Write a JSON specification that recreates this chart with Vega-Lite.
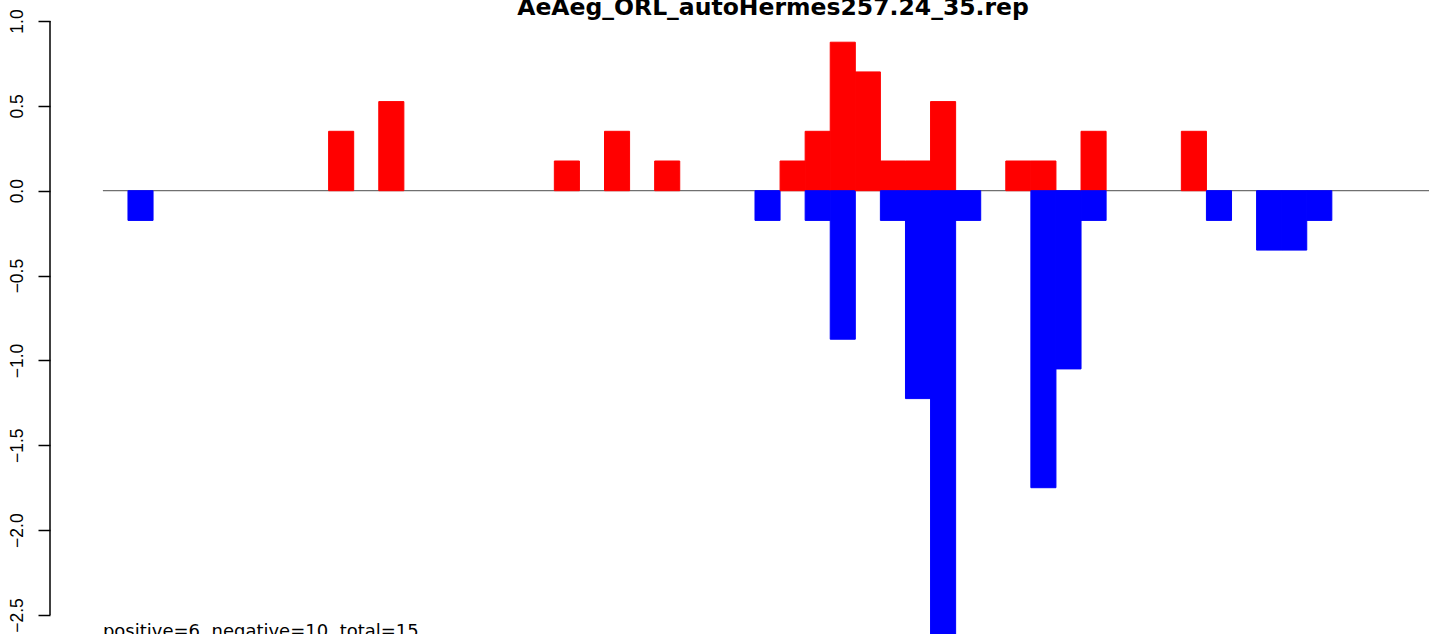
{
  "$schema": "https://vega.github.io/schema/vega-lite/v6.json",
  "width": 1379,
  "height": 634,
  "autosize": "none",
  "padding": {"left": 50, "top": 0, "right": 0, "bottom": 0},
  "background": "white",
  "config": {"view": {"stroke": null}},
  "datasets": {
    "bars": [
      {"from": 1, "to": 2, "value": -0.175, "sign": "negative"},
      {"from": 9, "to": 10, "value": 0.35, "sign": "positive"},
      {"from": 11, "to": 12, "value": 0.525, "sign": "positive"},
      {"from": 18, "to": 19, "value": 0.175, "sign": "positive"},
      {"from": 20, "to": 21, "value": 0.35, "sign": "positive"},
      {"from": 22, "to": 23, "value": 0.175, "sign": "positive"},
      {"from": 26, "to": 27, "value": -0.175, "sign": "negative"},
      {"from": 27, "to": 28, "value": 0.175, "sign": "positive"},
      {"from": 28, "to": 29, "value": 0.35, "sign": "positive"},
      {"from": 28, "to": 29, "value": -0.175, "sign": "negative"},
      {"from": 29, "to": 30, "value": 0.875, "sign": "positive"},
      {"from": 29, "to": 30, "value": -0.875, "sign": "negative"},
      {"from": 30, "to": 31, "value": 0.7, "sign": "positive"},
      {"from": 31, "to": 32, "value": 0.175, "sign": "positive"},
      {"from": 31, "to": 32, "value": -0.175, "sign": "negative"},
      {"from": 32, "to": 33, "value": 0.175, "sign": "positive"},
      {"from": 32, "to": 33, "value": -1.225, "sign": "negative"},
      {"from": 33, "to": 34, "value": 0.525, "sign": "positive"},
      {"from": 33, "to": 34, "value": -2.625, "sign": "negative"},
      {"from": 34, "to": 35, "value": -0.175, "sign": "negative"},
      {"from": 36, "to": 37, "value": 0.175, "sign": "positive"},
      {"from": 37, "to": 38, "value": 0.175, "sign": "positive"},
      {"from": 37, "to": 38, "value": -1.75, "sign": "negative"},
      {"from": 38, "to": 39, "value": -1.05, "sign": "negative"},
      {"from": 39, "to": 40, "value": 0.35, "sign": "positive"},
      {"from": 39, "to": 40, "value": -0.175, "sign": "negative"},
      {"from": 43, "to": 44, "value": 0.35, "sign": "positive"},
      {"from": 44, "to": 45, "value": -0.175, "sign": "negative"},
      {"from": 46, "to": 47, "value": -0.35, "sign": "negative"},
      {"from": 47, "to": 48, "value": -0.35, "sign": "negative"},
      {"from": 48, "to": 49, "value": -0.175, "sign": "negative"}
    ],
    "one": [{}]
  },
  "layer": [
    {
      "data": {"name": "one"},
      "mark": {"type": "rule", "color": "#707070", "strokeWidth": 1.2, "clip": true},
      "encoding": {
        "x": {"datum": 0, "type": "quantitative", "scale": {"domain": [-2.109, 52.874], "nice": false, "zero": false}, "axis": null},
        "x2": {"datum": 60},
        "y": {"datum": 0, "type": "quantitative", "scale": {"domain": [-2.612, 1.1237], "nice": false, "zero": false}}
      }
    },
    {
      "data": {"name": "bars"},
      "mark": {"type": "bar", "clip": true, "strokeWidth": 1},
      "encoding": {
        "x": {"field": "from", "type": "quantitative", "axis": null},
        "x2": {"field": "to"},
        "y": {
          "field": "value",
          "type": "quantitative",
          "axis": {
            "values": [-2.5, -2, -1.5, -1, -0.5, 0, 0.5, 1],
            "format": ".1f",
            "domain": false,
            "grid": false,
            "ticks": true,
            "tickSize": 12,
            "tickColor": "black",
            "tickWidth": 1.5,
            "labelAngle": -90,
            "labelAlign": "center",
            "labelBaseline": "alphabetic",
            "labelPadding": 16,
            "labelFont": "Liberation Sans",
            "labelFontSize": 17.5,
            "labelColor": "black",
            "labelFlush": false,
            "labelOverlap": false,
            "title": null
          }
        },
        "y2": {"datum": 0},
        "color": {
          "field": "sign",
          "type": "nominal",
          "scale": {"domain": ["positive", "negative"], "range": ["#FF0000", "#0000FF"]},
          "legend": null
        },
        "stroke": {
          "field": "sign",
          "type": "nominal",
          "scale": {"domain": ["positive", "negative"], "range": ["#FF0000", "#0000FF"]},
          "legend": null
        }
      }
    },
    {
      "data": {"name": "one"},
      "mark": {"type": "rule", "color": "black", "strokeWidth": 1.5},
      "encoding": {
        "x": {"datum": -2.109, "type": "quantitative"},
        "y": {"datum": 1, "type": "quantitative"},
        "y2": {"datum": -2.5}
      }
    },
    {
      "data": {"name": "one"},
      "mark": {"type": "text", "font": "DejaVu Sans", "fontWeight": "bold", "fontSize": 23.5, "align": "center", "baseline": "alphabetic", "color": "black"},
      "encoding": {
        "x": {"datum": 26.72, "type": "quantitative"},
        "y": {"datum": 1.0353, "type": "quantitative"},
        "text": {"value": "AeAeg_ORL_autoHermes257.24_35.rep"}
      }
    },
    {
      "data": {"name": "one"},
      "mark": {"type": "text", "font": "DejaVu Sans", "fontSize": 18, "align": "left", "baseline": "alphabetic", "color": "black"},
      "encoding": {
        "x": {"datum": 0, "type": "quantitative"},
        "y": {"datum": -2.63, "type": "quantitative"},
        "text": {"value": "positive=6, negative=10, total=15"}
      }
    }
  ]
}
